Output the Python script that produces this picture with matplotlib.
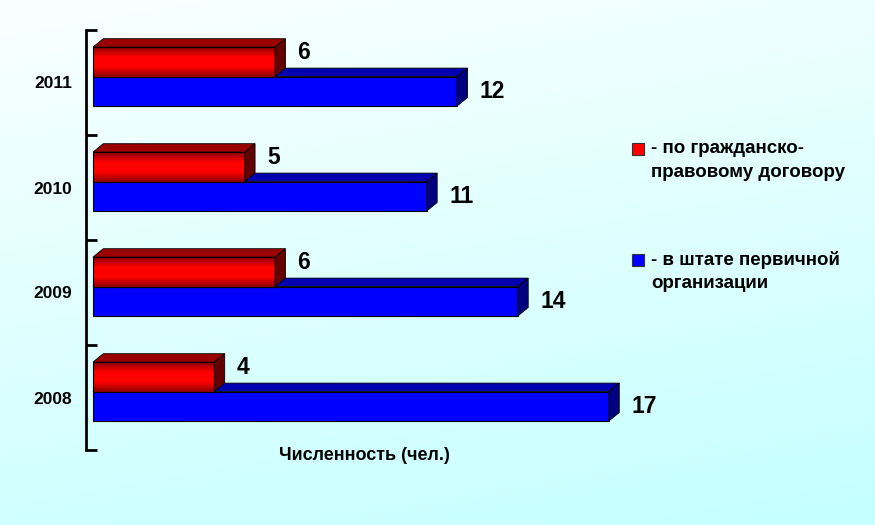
import numpy as np
import matplotlib
matplotlib.use("Agg")
import matplotlib.pyplot as plt
from matplotlib.patches import Polygon, Rectangle
from matplotlib.colors import LinearSegmentedColormap

plt.rcParams['font.family'] = ['Liberation Sans', 'DejaVu Sans']

years = ["2008", "2009", "2010", "2011"]
contract = [4, 6, 5, 6]      # по гражданско-правовому договору
staff = [17, 14, 11, 12]     # в штате первичной организации

fig = plt.figure(figsize=(8.75, 5.25), dpi=100)

# фон: градиент от почти белого к бледно-голубому
bg = fig.add_axes([0, 0, 1, 1], zorder=0)
yy, xx = np.mgrid[0:1:200j, 0:1:200j]
t = np.clip(0.85 * yy + 0.25 * xx - 0.05, 0, 1)
top = np.array([0.97, 1.0, 1.0])
bot = np.array([0.78, 1.0, 1.0])
img = top[None, None, :] * (1 - t[..., None]) + bot[None, None, :] * t[..., None]
bg.imshow(img, aspect="auto", extent=[0, 1, 0, 1], origin="upper")
bg.axis("off")

ax = fig.add_axes([86 / 875, 75 / 525, 614 / 875, 420 / 525], zorder=1)
ax.patch.set_alpha(0)

h = 0.28          # высота полосы
base = 0.057      # граница между полосами внутри года
dx, dy = 0.34, 0.08   # смещение «глубины»

red_cmap = LinearSegmentedColormap.from_list(
    "red3d", ["#8c0000", "#ff0000", "#ff0000", "#8c0000"])


def box(x0, x1, y0, front, topc, side, z, grad=None):
    if grad is not None:
        im = ax.imshow(np.linspace(0, 1, 64)[:, None], cmap=grad, aspect="auto",
                       extent=[x0, x1, y0, y0 + h], origin="lower", zorder=z)
        rect = Rectangle((x0, y0), x1 - x0, h, transform=ax.transData)
        im.set_clip_path(rect)
        ax.add_patch(Rectangle((x0, y0), x1 - x0, h, fill=False,
                               ec="black", lw=0.8, zorder=z + 0.1))
    else:
        ax.add_patch(Rectangle((x0, y0), x1 - x0, h, fc=front,
                               ec="black", lw=0.8, zorder=z))
    ax.add_patch(Polygon([(x0, y0 + h), (x1, y0 + h), (x1 + dx, y0 + h + dy),
                          (x0 + dx, y0 + h + dy)], closed=True, fc=topc,
                         ec="black", lw=0.6, zorder=z + 0.1))
    ax.add_patch(Polygon([(x1, y0), (x1 + dx, y0 + dy), (x1 + dx, y0 + h + dy),
                          (x1, y0 + h)], closed=True, fc=side,
                         ec="black", lw=0.6, zorder=z + 0.1))


for i, (r, b) in enumerate(zip(contract, staff)):
    box(0, b, i + base - h, "#0000ff", "#0000b0", "#000080", 2)
    box(0, r, i + base, None, "#9a0000", "#640000", 3, grad=red_cmap)
    ax.text(b + dx + 0.4, i + base - h / 2, str(b), ha="left", va="center",
            fontsize=16.5, fontweight="bold", zorder=5)
    ax.text(r + dx + 0.4, i + base + h / 2 + 0.09, str(r), ha="left",
            va="center", fontsize=16.5, fontweight="bold", zorder=5)

ax.set_xlim(-0.23, 20)
ax.set_ylim(-0.5, 3.5)

for s in ["top", "right", "bottom"]:
    ax.spines[s].set_visible(False)
ax.spines["left"].set_linewidth(2)
ax.set_xticks([])
ax.set_yticks([-0.5, 0.5, 1.5, 2.5, 3.5])
ax.set_yticklabels([])
ax.tick_params(axis="y", which="major", direction="in", length=8, width=2)
ax.set_yticks(range(len(years)), minor=True)
ax.set_yticklabels(years, minor=True, fontsize=12.5, fontweight="bold")
ax.tick_params(axis="y", which="minor", length=0, pad=10)

fig.text(364 / 875, 1 - 455 / 525, "Численность (чел.)", ha="center",
         va="center", fontsize=13, fontweight="bold")

# легенда
legend_items = [
    ("#ff0000", 149, ["- по гражданско-", "правовому договору"]),
    ("#0000ff", 260, ["- в штате первичной", "организации"]),
]
for color, ypx, lines in legend_items:
    fig.patches.append(Rectangle((632 / 875, 1 - (ypx + 6) / 525), 12 / 875,
                                 12 / 525, transform=fig.transFigure, fc=color,
                                 ec="#333333", lw=0.8, zorder=5))
    for k, line in enumerate(lines):
        fig.text(651 / 875, 1 - (ypx + 23 * k) / 525, line, ha="left",
                 va="center", fontsize=13.5, fontweight="bold", zorder=5)

fig.savefig("out.png", dpi=100)
